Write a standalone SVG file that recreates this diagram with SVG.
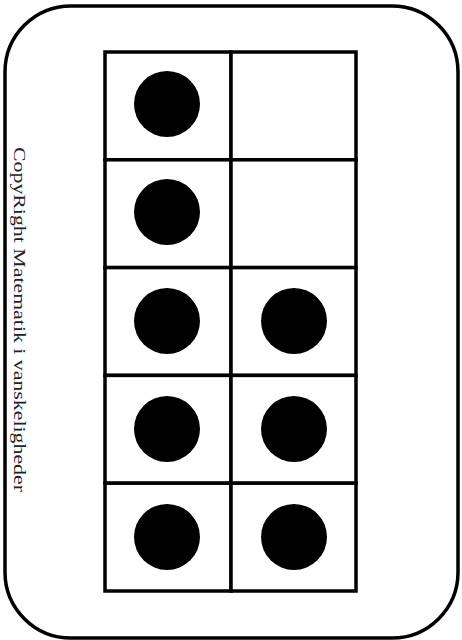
<svg xmlns="http://www.w3.org/2000/svg" width="462" height="640" viewBox="0 0 462 640">
<style>
.frame{fill:#fff;stroke:#000;stroke-width:3.5}
.cell{fill:#fff;stroke:#000;stroke-width:3.5}
.dot{fill:#000}
.label{font-family:"Liberation Serif","Times New Roman",serif;font-size:17px;fill:#222}
</style>
<rect width="462" height="640" fill="#fff"/>
<g id="card">
<rect class="frame" x="5" y="6" width="453" height="632" rx="66" ry="66"/>
</g>
<g id="label">
<text class="label" transform="translate(14,147) rotate(90)" textLength="345" lengthAdjust="spacingAndGlyphs">CopyRight Matematik i vanskeligheder</text>
</g>
<g id="frame-grid">
<rect class="cell" x="105" y="52" width="126" height="107.8"/>
<rect class="cell" x="231" y="52" width="125" height="107.8"/>
<rect class="cell" x="105" y="159.8" width="126" height="107.8"/>
<rect class="cell" x="231" y="159.8" width="125" height="107.8"/>
<rect class="cell" x="105" y="267.6" width="126" height="107.8"/>
<rect class="cell" x="231" y="267.6" width="125" height="107.8"/>
<rect class="cell" x="105" y="375.4" width="126" height="107.8"/>
<rect class="cell" x="231" y="375.4" width="125" height="107.8"/>
<rect class="cell" x="105" y="483.2" width="126" height="107.8"/>
<rect class="cell" x="231" y="483.2" width="125" height="107.8"/>
</g>
<g id="dots">
<circle class="dot" cx="167" cy="104" r="33"/>
<circle class="dot" cx="167" cy="212" r="33"/>
<circle class="dot" cx="167" cy="321" r="33"/>
<circle class="dot" cx="294" cy="321" r="33"/>
<circle class="dot" cx="167" cy="429" r="33"/>
<circle class="dot" cx="294" cy="429" r="33"/>
<circle class="dot" cx="167" cy="537" r="33"/>
<circle class="dot" cx="294" cy="537" r="33"/>
</g>
</svg>
